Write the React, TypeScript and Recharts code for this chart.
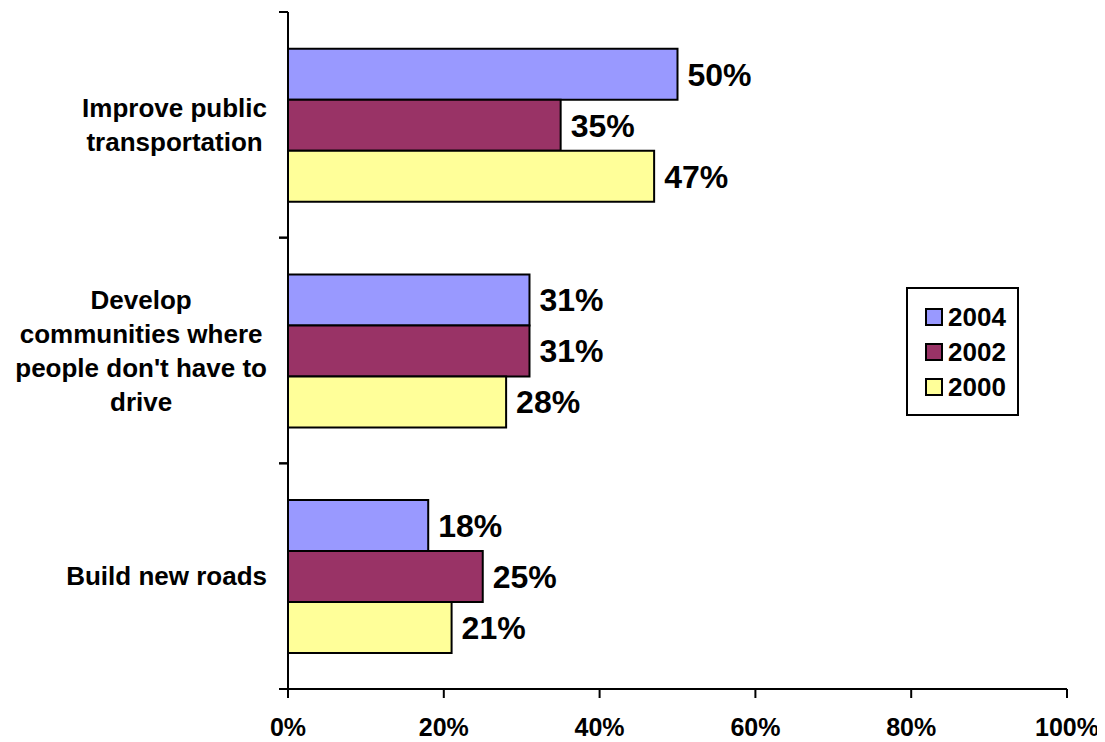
import React from 'react';
import { BarChart, Bar, XAxis, YAxis, LabelList } from 'recharts';

const categories = ['Improve public transportation', "Develop communities where people don't have to drive", 'Build new roads'];
const categoryLines = [
  ['Improve public', 'transportation'],
  ['Develop', 'communities where', "people don't have to", 'drive'],
  ['Build new roads'],
];
const seriesNames = ['2004', '2002', '2000'];
const values2004 = [50, 31, 18];
const values2002 = [35, 31, 25];
const values2000 = [47, 28, 21];
const xTicks = [0, 20, 40, 60, 80, 100];
const colors = ['#9999FF', '#993366', '#FFFF99'];

const FONT = "'Liberation Sans', Arial, Helvetica, sans-serif";

const data = categories.map((name, i) => ({
  name,
  v2004: values2004[i],
  v2002: values2002[i],
  v2000: values2000[i],
}));

let canvasCtx: CanvasRenderingContext2D | null = null;
function measure(text: string, font: string): number {
  if (!canvasCtx) {
    const c = document.createElement('canvas');
    canvasCtx = c.getContext('2d');
  }
  if (!canvasCtx) return text.length * 14;
  canvasCtx.font = font;
  return canvasCtx.measureText(text).width;
}

const CAT_SIZE = 26;
const LINE_H = 34;

const CategoryTick = (props: any) => {
  const { x, y, payload, height, visibleTicksCount } = props;
  const idx = categories.indexOf(payload.value);
  const lines = categoryLines[idx] || [String(payload.value)];
  const band =
    typeof payload.offset === 'number' && payload.offset > 0
      ? payload.offset * 2
      : height / (visibleTicksCount || categories.length);
  const half = band / 2;
  const font = `bold ${CAT_SIZE}px ${FONT}`;
  const maxW = Math.max(...lines.map((l) => measure(l, font)));
  const cx = x - 21 - maxW / 2;
  const startY = y - ((lines.length - 1) * LINE_H) / 2;
  return (
    <g>
      <line x1={x - 9} y1={y - half} x2={x} y2={y - half} stroke="#000" strokeWidth={2} />
      <line x1={x - 9} y1={y + half} x2={x} y2={y + half} stroke="#000" strokeWidth={2} />
      {lines.map((l, i) => (
        <text
          key={i}
          x={cx}
          y={startY + i * LINE_H}
          textAnchor="middle"
          dominantBaseline="central"
          fontFamily={FONT}
          fontWeight="bold"
          fontSize={CAT_SIZE}
          fill="#000"
        >
          {l}
        </text>
      ))}
    </g>
  );
};

const LegendBox = () => (
  <div
    style={{
      position: 'absolute',
      left: 898,
      top: 279,
      border: '2px solid #000',
      background: '#fff',
      width: 109,
      boxSizing: 'content-box',
      padding: '10px 0 10px 0',
      fontFamily: FONT,
    }}
  >
    {seriesNames.map((n, i) => (
      <div key={n} style={{ display: 'flex', alignItems: 'center', height: 35, paddingLeft: 17 }}>
        <span
          style={{
            display: 'inline-block',
            width: 14,
            height: 14,
            background: colors[i],
            border: '2px solid #000',
            marginRight: 5,
          }}
        />
        <span style={{ fontWeight: 'bold', fontSize: 26, color: '#000', lineHeight: '26px' }}>{n}</span>
      </div>
    ))}
  </div>
);

const fmt = (v: any) => `${v}%`;
const labelStyle = { fontFamily: FONT, fontWeight: 'bold', fontSize: 32, fill: '#000' } as any;

export default function App() {
  return (
    <div style={{ position: 'relative', width: 1097, height: 734, background: '#fff' }}>
      <BarChart
        width={1097}
        height={734}
        data={data}
        layout="vertical"
        margin={{ top: 4, right: 38, left: 0, bottom: 0 }}
        barCategoryGap="16.3%"
        barGap={0}
      >
        <XAxis
          type="number"
          domain={[0, 100]}
          ticks={xTicks}
          interval={0}
          tickFormatter={fmt}
          height={53}
          tickSize={9}
          tickMargin={20}
          axisLine={{ stroke: '#000', strokeWidth: 2 }}
          tickLine={{ stroke: '#000', strokeWidth: 2 }}
          tick={{ fill: '#000', fontFamily: FONT, fontWeight: 'bold', fontSize: 25 }}
        />
        <YAxis
          type="category"
          dataKey="name"
          width={280}
          interval={0}
          tickSize={0}
          tickMargin={0}
          tickLine={false}
          axisLine={{ stroke: '#000', strokeWidth: 2 }}
          tick={<CategoryTick />}
        />
        <Bar dataKey="v2004" name="2004" fill={colors[0]} stroke="#000" strokeWidth={2} isAnimationActive={false}>
          <LabelList dataKey="v2004" position="right" offset={10} formatter={fmt} style={labelStyle} />
        </Bar>
        <Bar dataKey="v2002" name="2002" fill={colors[1]} stroke="#000" strokeWidth={2} isAnimationActive={false}>
          <LabelList dataKey="v2002" position="right" offset={10} formatter={fmt} style={labelStyle} />
        </Bar>
        <Bar dataKey="v2000" name="2000" fill={colors[2]} stroke="#000" strokeWidth={2} isAnimationActive={false}>
          <LabelList dataKey="v2000" position="right" offset={10} formatter={fmt} style={labelStyle} />
        </Bar>
      </BarChart>
      <LegendBox />
    </div>
  );
}
